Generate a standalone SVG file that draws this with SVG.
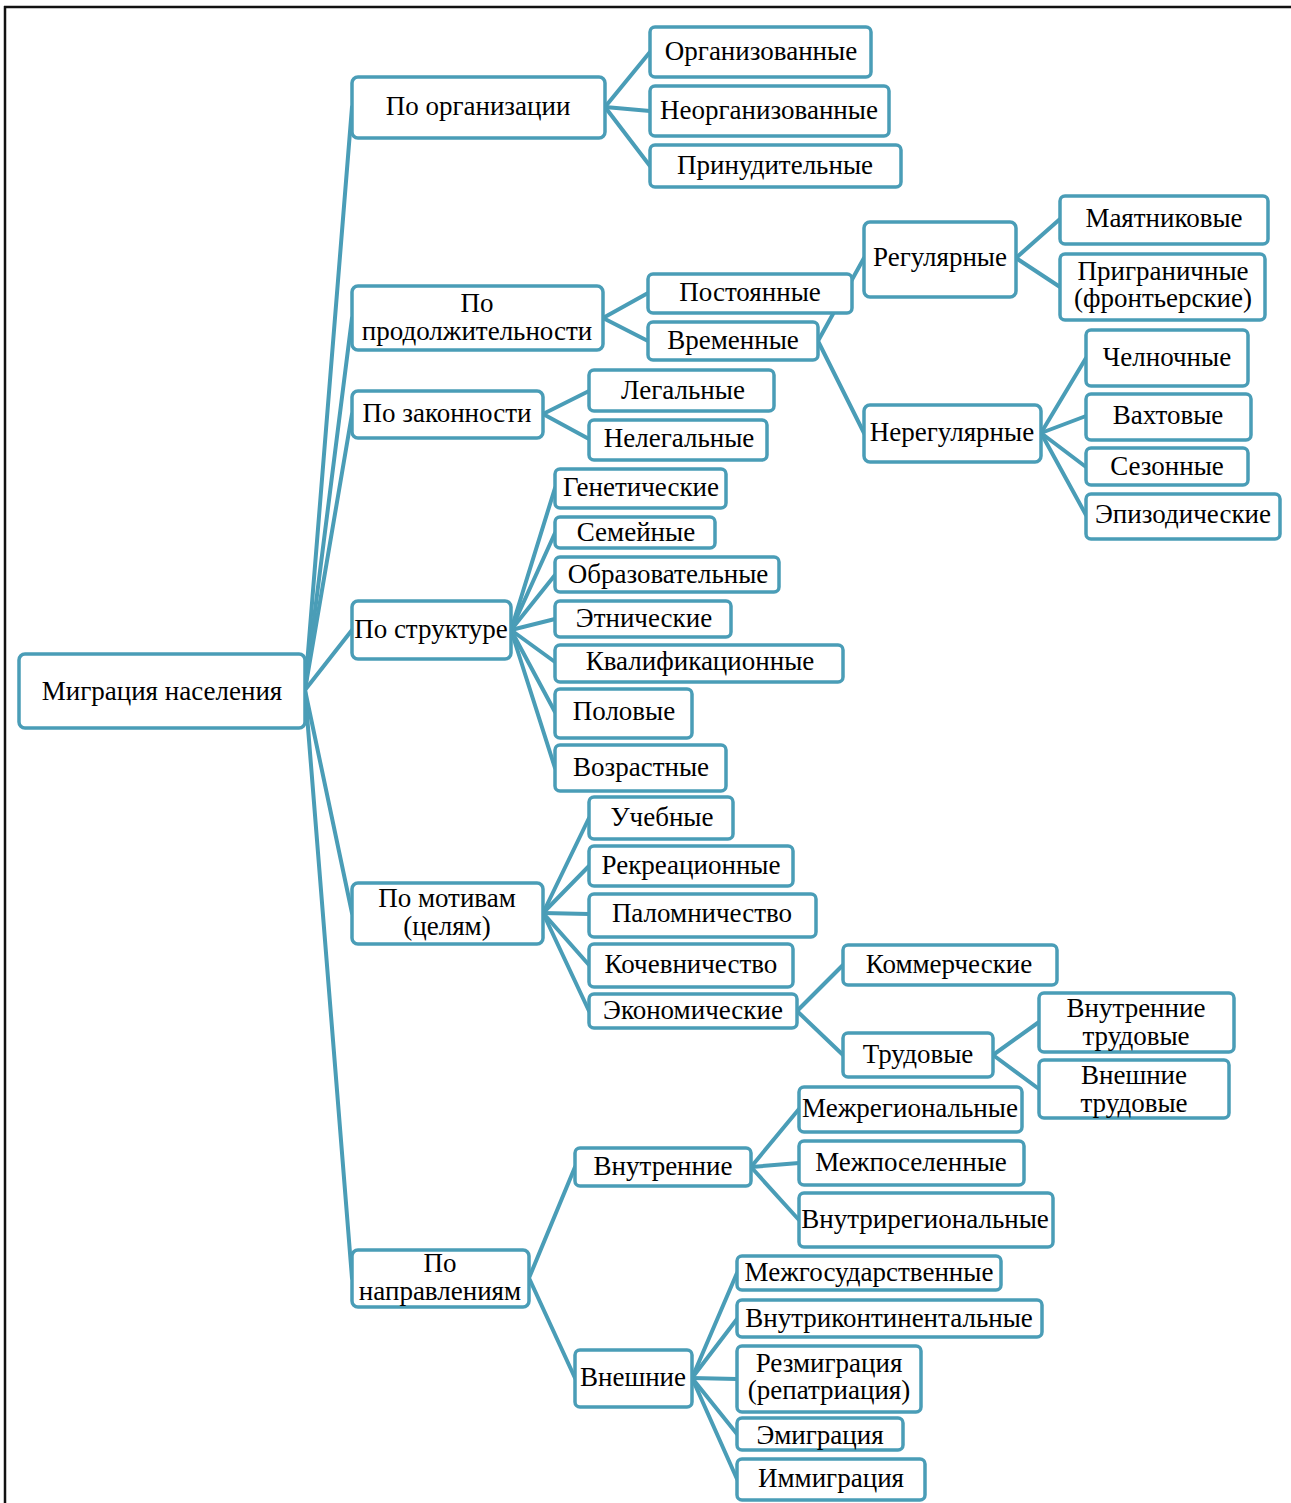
<svg xmlns="http://www.w3.org/2000/svg" width="1291" height="1503" viewBox="0 0 1291 1503">
<style>
.n rect{fill:#fff;stroke:#4a9db7;stroke-width:3.5}
.n text{font-family:"Liberation Serif","Times New Roman",serif;font-size:27px;fill:#000;text-anchor:middle;dominant-baseline:central}
#edges line{stroke:#4a9db7;stroke-width:4;stroke-linecap:round}
</style>
<rect x="0" y="0" width="1291" height="1503" fill="#fff"/>
<line x1="4" y1="7" x2="1291" y2="7" stroke="#111" stroke-width="2.5"/>
<line x1="5" y1="6" x2="5" y2="1503" stroke="#111" stroke-width="2.5"/>
<g id="edges">
<line x1="305" y1="690" x2="352" y2="107"/>
<line x1="305" y1="690" x2="352" y2="318"/>
<line x1="305" y1="690" x2="352" y2="414"/>
<line x1="305" y1="690" x2="352" y2="630"/>
<line x1="305" y1="690" x2="352" y2="913"/>
<line x1="305" y1="690" x2="352" y2="1278"/>
<line x1="605" y1="107" x2="650" y2="52"/>
<line x1="605" y1="107" x2="650" y2="111"/>
<line x1="605" y1="107" x2="650" y2="166"/>
<line x1="603" y1="318" x2="648" y2="293"/>
<line x1="603" y1="318" x2="648" y2="341"/>
<line x1="818" y1="341" x2="864" y2="258"/>
<line x1="818" y1="341" x2="864" y2="433"/>
<line x1="1016" y1="258" x2="1060" y2="219"/>
<line x1="1016" y1="258" x2="1060" y2="287"/>
<line x1="1041" y1="433" x2="1086" y2="358"/>
<line x1="1041" y1="433" x2="1086" y2="416"/>
<line x1="1041" y1="433" x2="1086" y2="467"/>
<line x1="1041" y1="433" x2="1086" y2="515"/>
<line x1="543" y1="414" x2="589" y2="391"/>
<line x1="543" y1="414" x2="589" y2="439"/>
<line x1="511" y1="630" x2="555" y2="488"/>
<line x1="511" y1="630" x2="555" y2="533"/>
<line x1="511" y1="630" x2="555" y2="575"/>
<line x1="511" y1="630" x2="555" y2="619"/>
<line x1="511" y1="630" x2="555" y2="662"/>
<line x1="511" y1="630" x2="555" y2="712"/>
<line x1="511" y1="630" x2="555" y2="768"/>
<line x1="543" y1="913" x2="589" y2="818"/>
<line x1="543" y1="913" x2="589" y2="866"/>
<line x1="543" y1="913" x2="589" y2="914"/>
<line x1="543" y1="913" x2="589" y2="965"/>
<line x1="543" y1="913" x2="589" y2="1011"/>
<line x1="797" y1="1011" x2="843" y2="965"/>
<line x1="797" y1="1011" x2="843" y2="1055"/>
<line x1="993" y1="1055" x2="1039" y2="1022"/>
<line x1="993" y1="1055" x2="1039" y2="1089"/>
<line x1="529" y1="1278" x2="575" y2="1167"/>
<line x1="529" y1="1278" x2="575" y2="1378"/>
<line x1="751" y1="1167" x2="799" y2="1109"/>
<line x1="751" y1="1167" x2="799" y2="1163"/>
<line x1="751" y1="1167" x2="799" y2="1220"/>
<line x1="692" y1="1378" x2="737" y2="1273"/>
<line x1="692" y1="1378" x2="737" y2="1319"/>
<line x1="692" y1="1378" x2="737" y2="1379"/>
<line x1="692" y1="1378" x2="737" y2="1434"/>
<line x1="692" y1="1378" x2="737" y2="1479"/>
</g>
<g id="root" class="n"><rect x="19" y="654" width="286" height="74" rx="6"/><text x="162" y="691">Миграция населения</text></g>
<g id="org" class="n"><rect x="352" y="77" width="253" height="61" rx="6"/><text x="478" y="106">По организации</text></g>
<g id="dur" class="n"><rect x="352" y="286" width="251" height="64" rx="6"/><text x="477" y="303">По</text><text x="477" y="331">продолжительности</text></g>
<g id="law" class="n"><rect x="352" y="391" width="191" height="47" rx="6"/><text x="447" y="413">По законности</text></g>
<g id="struct" class="n"><rect x="352" y="601" width="159" height="58" rx="6"/><text x="431" y="629">По структуре</text></g>
<g id="motive" class="n"><rect x="352" y="883" width="191" height="61" rx="6"/><text x="447" y="898">По мотивам</text><text x="447" y="926">(целям)</text></g>
<g id="dir" class="n"><rect x="352" y="1250" width="177" height="57" rx="6"/><text x="440" y="1263">По</text><text x="440" y="1291">направлениям</text></g>
<g id="org1" class="n"><rect x="650" y="27" width="221" height="50" rx="5"/><text x="761" y="51">Организованные</text></g>
<g id="org2" class="n"><rect x="650" y="86" width="239" height="50" rx="5"/><text x="769" y="110">Неорганизованные</text></g>
<g id="org3" class="n"><rect x="650" y="145" width="251" height="42" rx="5"/><text x="775" y="165">Принудительные</text></g>
<g id="dur1" class="n"><rect x="648" y="274" width="204" height="39" rx="5"/><text x="750" y="292">Постоянные</text></g>
<g id="dur2" class="n"><rect x="648" y="322" width="170" height="38" rx="5"/><text x="733" y="340">Временные</text></g>
<g id="reg" class="n"><rect x="864" y="222" width="152" height="75" rx="6"/><text x="940" y="257">Регулярные</text></g>
<g id="irreg" class="n"><rect x="864" y="405" width="177" height="57" rx="6"/><text x="952" y="432">Нерегулярные</text></g>
<g id="reg1" class="n"><rect x="1060" y="196" width="208" height="48" rx="5"/><text x="1164" y="218">Маятниковые</text></g>
<g id="reg2" class="n"><rect x="1060" y="254" width="205" height="66" rx="5"/><text x="1163" y="271">Приграничные</text><text x="1163" y="298">(фронтьерские)</text></g>
<g id="irr1" class="n"><rect x="1086" y="330" width="162" height="56" rx="5"/><text x="1167" y="357">Челночные</text></g>
<g id="irr2" class="n"><rect x="1086" y="394" width="165" height="46" rx="5"/><text x="1168" y="415">Вахтовые</text></g>
<g id="irr3" class="n"><rect x="1086" y="448" width="162" height="37" rx="5"/><text x="1167" y="466">Сезонные</text></g>
<g id="irr4" class="n"><rect x="1086" y="494" width="194" height="45" rx="5"/><text x="1183" y="514">Эпизодические</text></g>
<g id="law1" class="n"><rect x="589" y="370" width="185" height="41" rx="5"/><text x="683" y="390">Легальные</text></g>
<g id="law2" class="n"><rect x="589" y="420" width="178" height="40" rx="5"/><text x="679" y="438">Нелегальные</text></g>
<g id="st1" class="n"><rect x="555" y="469" width="171" height="39" rx="5"/><text x="641" y="487">Генетические</text></g>
<g id="st2" class="n"><rect x="555" y="517" width="160" height="31" rx="5"/><text x="636" y="532">Семейные</text></g>
<g id="st3" class="n"><rect x="555" y="557" width="224" height="35" rx="5"/><text x="668" y="574">Образовательные</text></g>
<g id="st4" class="n"><rect x="555" y="601" width="176" height="36" rx="5"/><text x="644" y="618">Этнические</text></g>
<g id="st5" class="n"><rect x="555" y="645" width="288" height="37" rx="5"/><text x="700" y="661">Квалификационные</text></g>
<g id="st6" class="n"><rect x="555" y="689" width="137" height="49" rx="5"/><text x="624" y="711">Половые</text></g>
<g id="st7" class="n"><rect x="555" y="745" width="171" height="46" rx="5"/><text x="641" y="767">Возрастные</text></g>
<g id="mo1" class="n"><rect x="589" y="797" width="144" height="42" rx="5"/><text x="662" y="817">Учебные</text></g>
<g id="mo2" class="n"><rect x="589" y="846" width="204" height="40" rx="5"/><text x="691" y="865">Рекреационные</text></g>
<g id="mo3" class="n"><rect x="589" y="894" width="227" height="43" rx="5"/><text x="702" y="913">Паломничество</text></g>
<g id="mo4" class="n"><rect x="589" y="944" width="204" height="43" rx="5"/><text x="691" y="964">Кочевничество</text></g>
<g id="mo5" class="n"><rect x="589" y="994" width="208" height="34" rx="5"/><text x="693" y="1010">Экономические</text></g>
<g id="ec1" class="n"><rect x="843" y="945" width="214" height="40" rx="5"/><text x="949" y="964">Коммерческие</text></g>
<g id="ec2" class="n"><rect x="843" y="1033" width="150" height="44" rx="5"/><text x="918" y="1054">Трудовые</text></g>
<g id="lab1" class="n"><rect x="1039" y="993" width="195" height="59" rx="5"/><text x="1136" y="1008">Внутренние</text><text x="1136" y="1036">трудовые</text></g>
<g id="lab2" class="n"><rect x="1039" y="1060" width="190" height="58" rx="5"/><text x="1134" y="1075">Внешние</text><text x="1134" y="1103">трудовые</text></g>
<g id="dr1" class="n"><rect x="575" y="1148" width="176" height="38" rx="5"/><text x="663" y="1166">Внутренние</text></g>
<g id="dr2" class="n"><rect x="575" y="1350" width="117" height="57" rx="5"/><text x="633" y="1377">Внешние</text></g>
<g id="in1" class="n"><rect x="799" y="1087" width="223" height="45" rx="5"/><text x="910" y="1108">Межрегиональные</text></g>
<g id="in2" class="n"><rect x="799" y="1141" width="225" height="44" rx="5"/><text x="911" y="1162">Межпоселенные</text></g>
<g id="in3" class="n"><rect x="799" y="1193" width="254" height="54" rx="5"/><text x="925" y="1219">Внутрирегиональные</text></g>
<g id="ex1" class="n"><rect x="737" y="1256" width="264" height="34" rx="5"/><text x="869" y="1272">Межгосударственные</text></g>
<g id="ex2" class="n"><rect x="737" y="1300" width="305" height="37" rx="5"/><text x="889" y="1318">Внутриконтинентальные</text></g>
<g id="ex3" class="n"><rect x="737" y="1346" width="184" height="66" rx="5"/><text x="829" y="1363">Резмиграция</text><text x="829" y="1390">(репатриация)</text></g>
<g id="ex4" class="n"><rect x="737" y="1418" width="166" height="32" rx="5"/><text x="820" y="1435">Эмиграция</text></g>
<g id="ex5" class="n"><rect x="737" y="1459" width="188" height="41" rx="5"/><text x="831" y="1478">Иммиграция</text></g>
</svg>
